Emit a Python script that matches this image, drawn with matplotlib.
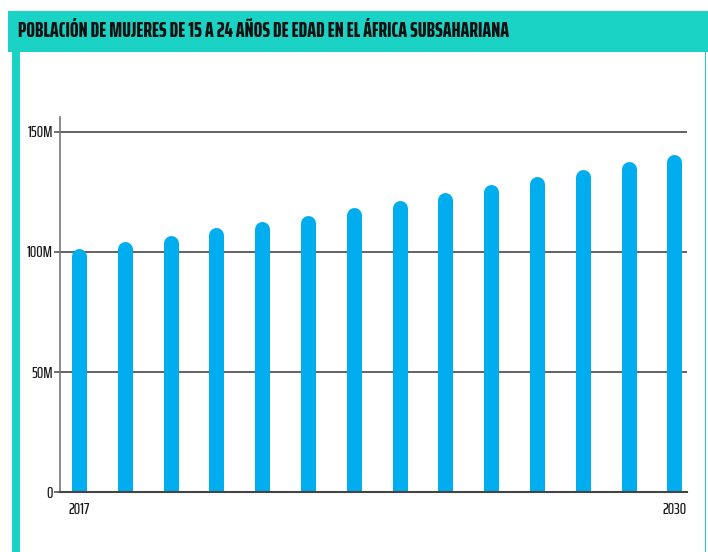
import matplotlib
matplotlib.use("Agg")
import matplotlib.pyplot as plt
from matplotlib.patches import Rectangle
import numpy as np

years = list(range(2017, 2031))
values_m = [101.5, 104.3, 106.7, 110.0, 112.9, 115.3, 118.5, 121.4, 124.9, 128.2, 131.3, 134.5, 137.9, 140.7]
yticks = [0, 50, 100, 150]
ytick_labels = ["0", "50M", "100M", "150M"]
xtick_years = [2017, 2030]
title = "POBLACIÓN DE MUJERES DE 15 A 24 AÑOS DE EDAD EN EL ÁFRICA SUBSAHARIANA"

TEAL = "#1ad3c5"
BLUE = "#00aeef"
W, H = 708, 552
DPI = 100
TICK_FONT = ['Saira ExtraCondensed', 'DejaVu Sans']
TITLE_FONT = ['Saira ExtraCondensed', 'DejaVu Sans']

fig = plt.figure(figsize=(W / DPI, H / DPI), dpi=DPI)
fig.patch.set_facecolor("white")

def px(x0, y0, w, h):
    return (x0 / W, 1 - (y0 + h) / H, w / W, h / H)

# Frame decoration
for (x0, y0, w, h) in [(8, 11, 700, 41), (12, 52, 7.5, 500), (704.5, 52, 1.5, 500)]:
    l, b, ww, hh = px(x0, y0, w, h)
    fig.patches.append(Rectangle((l, b), ww, hh, transform=fig.transFigure,
                                 facecolor=TEAL, edgecolor="none", zorder=0))
t = fig.text(18 / W, 1 - 31 / H, title, fontsize=14, family=TITLE_FONT,
             fontweight=800, color="#111111", va="center", ha="left")
# fit title to the width it occupies in the reference (~492 px)
fig.canvas.draw()
wpx = t.get_window_extent().width
t.set_fontsize(min(14 * 492 / wpx, 16))

ax = fig.add_axes((60 / W, 1 - 492 / H, 627 / W, 375 / H))
ax.set_xlim(2016.585, 2030.275)
ax.set_ylim(0, 156.25)

# Rounded-top bars: thick lines with round caps, bottom cap clipped below 0
bar_w_px = 15.0
fig.canvas.draw()
px_per_unit = ax.transData.transform((0, 100))[1] - ax.transData.transform((0, 0))[1]
r_units = (bar_w_px / 2) / px_per_unit * 100
for yr, v in zip(years, values_m):
    ax.plot([yr, yr], [-r_units - 1, v - r_units], color=BLUE,
            linewidth=bar_w_px * 72 / DPI, solid_capstyle="round", zorder=3)

for yv in yticks[1:]:
    ax.axhline(yv, color="#555555", linewidth=1.3, zorder=2)

for s in ["top", "right"]:
    ax.spines[s].set_visible(False)
ax.spines["left"].set_color("#777777")
ax.spines["left"].set_linewidth(1.2)
ax.spines["bottom"].set_color("#444444")
ax.spines["bottom"].set_linewidth(1.5)
ax.spines["bottom"].set_zorder(4)

ax.set_yticks(yticks)
ax.set_yticklabels(ytick_labels, family=TICK_FONT, fontweight=500)
ax.set_xticks(xtick_years)
ax.set_xticklabels([str(y) for y in xtick_years], family=TICK_FONT, fontweight=500)
ax.tick_params(axis="y", length=4, width=1.2, color="#555555", pad=1,
               labelsize=11.5, labelcolor="#1a1a1a")
ax.tick_params(axis="x", length=0, pad=8, labelsize=11.5, labelcolor="#1a1a1a")

fig.savefig("out.png", dpi=DPI)
